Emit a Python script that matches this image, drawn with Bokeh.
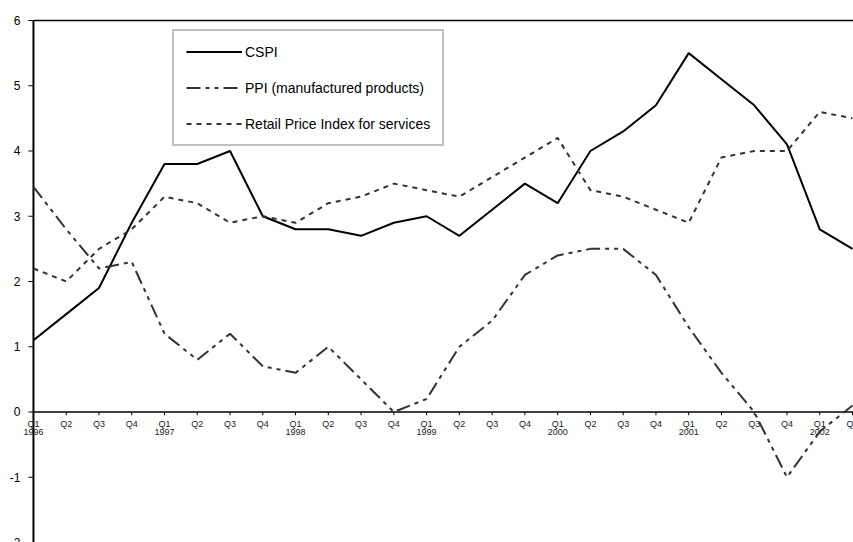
from bokeh.plotting import figure
from bokeh.models import ColumnDataSource, Legend, LegendItem, Range1d
from bokeh.core.properties import value
from bokeh.embed import file_html
from bokeh.resources import INLINE

quarters = ["Q1", "Q2", "Q3", "Q4"] * 6 + ["Q1", "Q2"]
years = ["1996", "", "", "", "1997", "", "", "", "1998", "", "", "", "1999", "", "", "",
         "2000", "", "", "", "2001", "", "", "", "2002", ""]
cspi = [1.1, 1.5, 1.9, 2.9, 3.8, 3.8, 4.0, 3.0, 2.8, 2.8, 2.7, 2.9, 3.0, 2.7, 3.1, 3.5,
        3.2, 4.0, 4.3, 4.7, 5.5, 5.1, 4.7, 4.1, 2.8, 2.5]
ppi = [3.45, 2.8, 2.2, 2.3, 1.2, 0.8, 1.2, 0.7, 0.6, 1.0, 0.5, 0.0, 0.2, 1.0, 1.4, 2.1,
       2.4, 2.5, 2.5, 2.1, 1.3, 0.6, 0.0, -1.0, -0.3, 0.1]
rpi_services = [2.2, 2.0, 2.5, 2.8, 3.3, 3.2, 2.9, 3.0, 2.9, 3.2, 3.3, 3.5, 3.4, 3.3, 3.6, 3.9,
                4.2, 3.4, 3.3, 3.1, 2.9, 3.9, 4.0, 4.0, 4.6, 4.5]
y_ticks = [-2, -1, 0, 1, 2, 3, 4, 5, 6]
y_tick_labels = ["-2", "-1", "0", "1", "2", "3", "4", "5", "6"]

x = list(range(len(quarters)))
src = ColumnDataSource(dict(x=x, cspi=cspi, ppi=ppi, rpi=rpi_services,
                            q=quarters, yr=years))
ysrc = ColumnDataSource(dict(y=y_ticks, lab=y_tick_labels))

X_MIN, X_MAX = -1.006, 25.03
Y_MIN, Y_MAX = -2, 6.3065

p = figure(width=853, height=542, output_backend="svg", toolbar_location=None,
           x_range=Range1d(X_MIN, X_MAX), y_range=Range1d(Y_MIN, Y_MAX),
           min_border_left=0, min_border_top=0, min_border_right=0, min_border_bottom=0)
p.axis.visible = False
p.grid.visible = False
p.background_fill_color = "white"
p.border_fill_color = "white"
p.outline_line_color = None

# top border of the plot area
p.segment(x0=[0], y0=[y_ticks[-1]], x1=[X_MAX], y1=[y_ticks[-1]],
          line_color="black", line_width=1.5)

# value axis (left) at the first category
p.segment(x0=[0], y0=[y_ticks[0]], x1=[0], y1=[y_ticks[-1]], line_color="black", line_width=2)
p.segment(x0=0, y0="y", x1=-0.155, y1="y", source=ysrc, line_color="black", line_width=1)
p.text(x=0, y="y", text="lab", source=ysrc, x_offset=-13, text_align="right",
       text_baseline="middle", text_font=value("Liberation Sans"), text_font_size="12px",
       text_color="black")

# category axis drawn along zero
p.segment(x0=[0], y0=[0], x1=[X_MAX], y1=[0], line_color="black", line_width=1.5)
p.segment(x0="x", y0=0, x1="x", y1=-0.05, source=src, line_color="black", line_width=1)
p.text(x="x", y=0, text="q", source=src, y_offset=7, text_align="center",
       text_baseline="top", text_font=value("Liberation Sans"), text_font_size="9px",
       text_color="#222222")
p.text(x="x", y=0, text="yr", source=src, y_offset=17, text_align="center",
       text_baseline="top", text_font=value("Liberation Sans"), text_font_size="9px",
       text_color="#222222")

r1 = p.line("x", "cspi", source=src, line_color="black", line_width=2)
r2 = p.line("x", "ppi", source=src, line_color="#333333", line_width=2,
            line_dash="14 5 4 5 4 5")
r3 = p.line("x", "rpi", source=src, line_color="#333333", line_width=2,
            line_dash="5 5")

legend = Legend(items=[LegendItem(label="CSPI", renderers=[r1]),
                       LegendItem(label="PPI (manufactured products)", renderers=[r2]),
                       LegendItem(label="Retail Price Index for services", renderers=[r3])],
                location=(172, 396), orientation="vertical")
legend.border_line_color = "#808080"
legend.border_line_width = 2
legend.background_fill_color = "white"
legend.background_fill_alpha = 1
legend.padding = 12
legend.spacing = 19
legend.glyph_width = 56
legend.glyph_height = 17
legend.label_height = 17
legend.label_standoff = 3
legend.margin = 0
legend.label_text_font = "Liberation Sans"
legend.label_text_font_size = "14px"
legend.label_text_color = "black"
p.add_layout(legend, "center")

open("out.html", "w").write(file_html(p, INLINE))
